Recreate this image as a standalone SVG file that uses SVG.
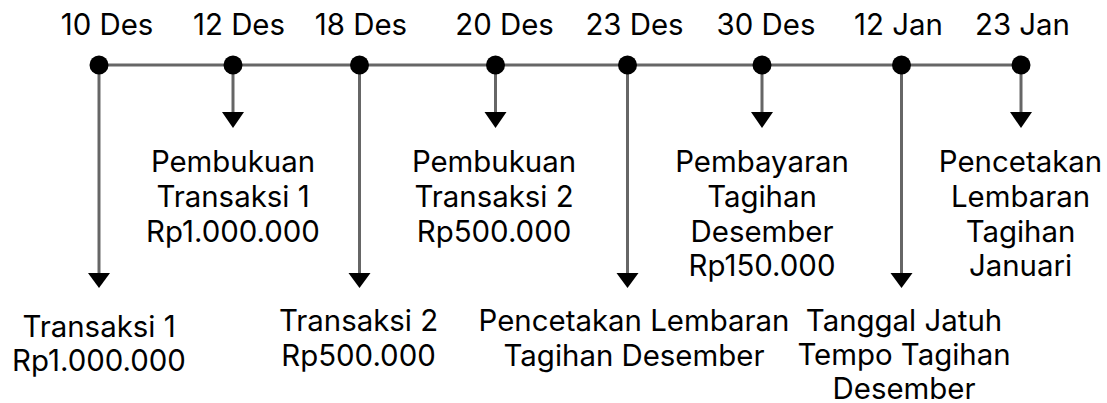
<svg xmlns="http://www.w3.org/2000/svg" width="1107" height="403" viewBox="0 0 1107 403">
<style>
text{font-family:Inter,"Liberation Sans",sans-serif;font-size:29.4px;fill:#000;text-anchor:middle}
.ln{stroke:#666;stroke-width:3;fill:none}
.dot{fill:#000}
.hd{fill:#000}
</style>
<rect width="1107" height="403" fill="#fff"/>
<g id="connectors">
<line class="ln" x1="99" y1="65" x2="1021" y2="65"/>
<line class="ln" x1="99" y1="65" x2="99" y2="274"/><polygon class="hd" points="88,273 110,273 99,288"/>
<line class="ln" x1="233" y1="65" x2="233" y2="114"/><polygon class="hd" points="222,112 244,112 233,128"/>
<line class="ln" x1="359.5" y1="65" x2="359.5" y2="274"/><polygon class="hd" points="348.5,273 370.5,273 359.5,288"/>
<line class="ln" x1="495.5" y1="65" x2="495.5" y2="114"/><polygon class="hd" points="484.5,112 506.5,112 495.5,128"/>
<line class="ln" x1="627.5" y1="65" x2="627.5" y2="274"/><polygon class="hd" points="616.5,273 638.5,273 627.5,288"/>
<line class="ln" x1="762" y1="65" x2="762" y2="114"/><polygon class="hd" points="751,112 773,112 762,128"/>
<line class="ln" x1="901.5" y1="65" x2="901.5" y2="274"/><polygon class="hd" points="890.5,273 912.5,273 901.5,288"/>
<line class="ln" x1="1021" y1="65" x2="1021" y2="114"/><polygon class="hd" points="1010,112 1032,112 1021,128"/>
</g>
<g id="n10des"><circle class="dot" cx="99" cy="65" r="9.5"/><text x="107" y="35">10 Des</text>
<text x="99" y="336.5">Transaksi 1</text><text x="99" y="371">Rp1.000.000</text></g>
<g id="n12des"><circle class="dot" cx="233" cy="65" r="9.5"/><text x="239" y="35">12 Des</text>
<text x="233" y="172">Pembukuan</text><text x="233" y="206.5">Transaksi 1</text><text x="233" y="241.5">Rp1.000.000</text></g>
<g id="n18des"><circle class="dot" cx="359.5" cy="65" r="9.5"/><text x="361" y="35">18 Des</text>
<text x="358.5" y="331">Transaksi 2</text><text x="358.5" y="365.5">Rp500.000</text></g>
<g id="n20des"><circle class="dot" cx="495.5" cy="65" r="9.5"/><text x="504.5" y="35">20 Des</text>
<text x="494" y="172">Pembukuan</text><text x="494" y="206.5">Transaksi 2</text><text x="494" y="241.5">Rp500.000</text></g>
<g id="n23des"><circle class="dot" cx="627.5" cy="65" r="9.5"/><text x="634.5" y="35">23 Des</text>
<text x="634" y="331">Pencetakan Lembaran</text><text x="634" y="365.5">Tagihan Desember</text></g>
<g id="n30des"><circle class="dot" cx="762" cy="65" r="9.5"/><text x="766" y="35">30 Des</text>
<text x="762" y="172">Pembayaran</text><text x="762" y="206.5">Tagihan</text><text x="762" y="241.5">Desember</text><text x="762" y="276">Rp150.000</text></g>
<g id="n12jan"><circle class="dot" cx="901.5" cy="65" r="9.5"/><text x="898.5" y="35">12 Jan</text>
<text x="904" y="330.5">Tanggal Jatuh</text><text x="904" y="365">Tempo Tagihan</text><text x="904" y="398.5">Desember</text></g>
<g id="n23jan"><circle class="dot" cx="1021" cy="65" r="9.5"/><text x="1022.5" y="35">23 Jan</text>
<text x="1020.5" y="172">Pencetakan</text><text x="1020.5" y="206.5">Lembaran</text><text x="1020.5" y="241.5">Tagihan</text><text x="1020.5" y="276">Januari</text></g>
</svg>
